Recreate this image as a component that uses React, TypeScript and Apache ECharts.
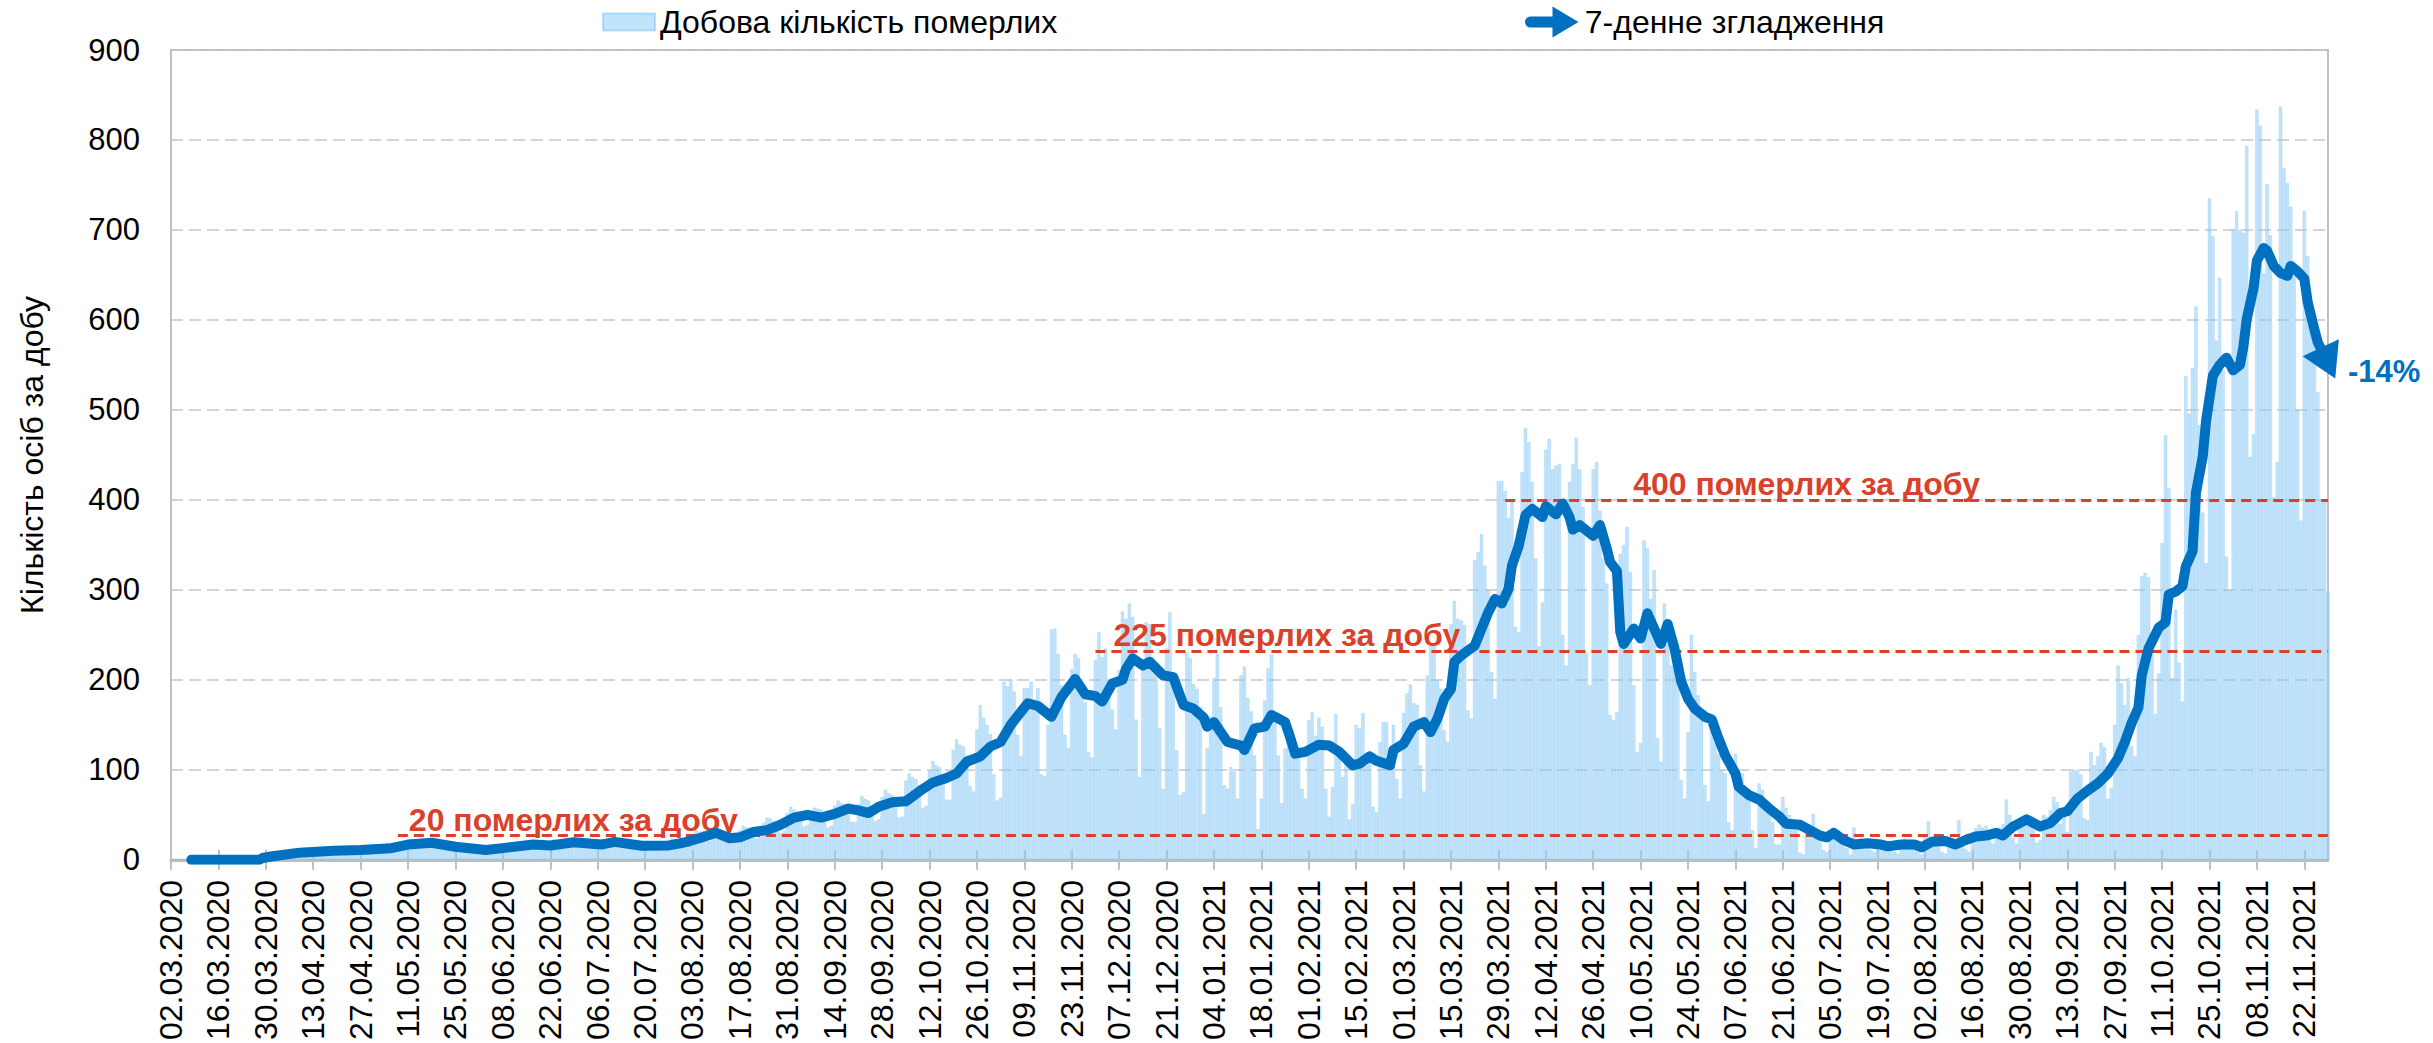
import React, { useEffect, useRef } from 'react';
import * as echarts from 'echarts';

// ---------- DATA ----------
const START_UTC = Date.UTC(2020, 2, 2); // 02.03.2020, first category

// Daily deaths (bars), by calendar month
const MAR20 = [0,0,0,0,0,0,0, 0,0,0,0,1,0,0, 0,0,1,0,1,1,0, 1,2,1,3,2,2,3, 4,5];
const APR20 = [3,6,5,3,4, 7,9,10,8,9,6,7, 10,12,11,9,11,8,9, 12,13,11,13,12,8,9, 13,14,12,15];
const MAY20 = [13,10,10, 15,19,18,17,16,13,14, 20,22,23,19,21,13,15, 16,17,19,16,14,11,12, 12,14,13,14,12,9,10];
const JUN20 = [12,15,14,13,14,9,11, 16,19,18,17,17,12,13, 18,19,17,18,16,13,14, 20,23,21,20,19,15,16, 18,21];
const JUL20 = [19,20,17,14,14, 21,23,22,21,20,15,15, 16,19,17,18,15,11,13, 17,19,18,17,16,12,13, 21,24,23,22,20];
const AUG20 = [14,16, 27,33,31,32,29,21,23, 25,29,28,27,26,19,21, 33,38,36,35,32,24,26, 41,47,46,43,41,30,32, 52];
const SEP20 = [59,56,54,53,37,39, 52,58,57,56,53,36,38, 60,66,63,62,57,42,42, 62,71,68,66,60,43,45, 70,78,74];
const OCT20 = [72,66,47,48, 88,96,92,90,83,58,60, 99,110,105,103,95,67,67, 122,134,128,126,116,82,76, 145,172,158,150,140,95];
const NOV20 = [66, 69,198,193,201,187,139,115, 191,191,198,172,191,95,93, 150,256,257,229,194,139,124, 212,229,224,185,175,120,114, 222];
const DEC20 = [253,225,235,200,167,145, 211,276,268,285,270,156,92, 212,264,262,225,209,146,79, 235,275,200,122,72,75,231, 224,195,190,170];
const JAN21 = [51,124,159, 202,229,170,83,79,103,98, 68,205,215,180,165,116,34, 68,177,213,228,160,116,63, 124,150,116,114,118,79,68];
const FEB21 = [155,164,138,158,148,79,48, 81,162,124,92,110,45,62, 150,146,163,105,120,59,53, 131,153,153,109,150,90,68];
const MAR21 = [163,185,195,174,172,105,76, 205,240,238,200,190,144,131, 262,288,268,266,261,166,157, 333,342,362,327,300,209,179, 421,421,410];
const APR21 = [380,400,259,253, 431,480,464,420,335,237,286, 456,468,434,438,440,250,216, 420,440,469,434,392,230,194, 434,442,388,335,307];
const MAY21 = [161,155, 164,340,350,370,320,194,120, 130,355,346,290,322,135,109, 285,262,216,230,201,89,68, 142,250,209,183,161,83,65, 150];
const JUN21 = [130,118,100,96,42,33, 118,98,96,76,72,33,13, 85,78,63,57,42,17,17, 70,58,50,39,35,8,6, 40,35,51];
const JUL21 = [31,31,11,9, 33,33,24,19,17,13,6, 36,22,24,17,15,11,9, 21,20,17,19,15,9,7, 22,24,19,19,16,9];
const AUG21 = [6, 25,43,24,22,17,9,7, 22,24,20,44,24,12,9, 30,35,39,36,38,25,18, 28,36,40,67,50,25,18, 40,38];
const SEP21 = [42,45,40,19,22, 50,48,55,70,64,40,50, 31,98,100,100,95,46,44, 120,105,115,130,125,68,80, 150,216,196,172];
const OCT21 = [202,126,115, 250,315,319,314,246,162,207, 352,472,413,202,278,219,176, 538,496,547,615,483,386,330, 735,693,577,647,544,337,300];
const NOV21 = [700,721,700,697,793,448,473, 834,816,652,751,694,403,442, 837,769,752,726,654,500,377, 721,671,609,578,520,400,400,298];

const DAILY = [
  ...MAR20, ...APR20, ...MAY20, ...JUN20, ...JUL20, ...AUG20, ...SEP20, ...OCT20, ...NOV20, ...DEC20,
  ...JAN21, ...FEB21, ...MAR21, ...APR21, ...MAY21, ...JUN21, ...JUL21, ...AUG21, ...SEP21, ...OCT21, ...NOV21,
];

// 7-day smoothing: [day index, value]
const SMOOTH: [number, number][] = [
  [6,0],[26,0],[27,2],[30,4],[38,8],[48,10],[56,11],[65,13],[70,17],[77,19],[84,14.5],[93,11],[98,13],
  [107,17],[112,16],[119,19.5],[127,17],[131,20],[139,15.6],[147,16],[150,18],[153,20.6],[156,24],[161,30],
  [165,24],[168,25],[172,31],[176,33],[180,39],[184,47],[188,50],[192,47],[196,51],[200,57],[203,55],[206,52],
  [209,59],[213,64],[217,65],[221,76],[225,86],[229,91],[232,96],[235,109],[239,115],[242,126],[245,131],
  [248,150],[253,174],[256,171],[260,159],[263,181],[267,201],[270,184],[273,182],[275,176],[278,196],
  [281,200],[282,212],[284,224],[287,216],[289,220],[293,205],[296,203],[299,172],[302,168],[305,158],
  [306,148],[308,153],[312,131],[316,127],[317,122],[320,146],[323,148],[325,161],[329,153],[330,142],
  [332,118],[335,120],[339,128],[342,127],[345,120],[349,105],[351,107],[354,115],[356,110],[360,105],
  [361,122],[364,129],[367,148],[370,153],[372,142],[374,157],[376,179],[378,190],[379,220],[381,227],
  [385,238],[389,275],[391,290],[393,285],[395,301],[396,327],[398,349],[400,383],[402,390],[405,381],
  [406,393],[409,384],[411,396],[413,381],[414,367],[416,372],[420,360],[422,372],[424,346],[425,331],
  [427,321],[428,253],[429,240],[432,257],[434,246],[436,274],[438,257],[440,240],[442,262],[444,235],
  [446,198],[448,179],[450,168],[453,159],[455,156],[457,135],[459,116],[462,96],[463,81],[466,72],
  [469,67],[472,57],[475,48],[477,40],[481,39],[484,33],[487,27],[489,25],[491,30],[494,22],[497,17],
  [501,18.5],[505,17],[507,15],[511,17],[515,17],[517,14],[520,20],[524,21],[527,17],[530,22],[533,26],
  [536,27],[539,30],[541,27],[544,37],[548,45],[552,37],[555,41],[558,52],[560,54],[563,68],[566,77],
  [569,85],[572,96],[575,113],[577,131],[579,152],[581,169],[582,205],[584,235],[587,258],[589,264],
  [590,295],[592,298],[594,304],[595,326],[597,343],[598,408],[600,448],[601,488],[603,538],[605,550],
  [607,558],[609,544],[611,550],[612,570],[613,601],[615,635],[616,666],[618,680],[619,677],[621,660],
  [623,652],[625,649],[626,660],[628,654],[630,646],[631,620],[633,589],[634,575],[636,560],[637,552],
];

const CHANGE_LABEL = '-14%';
const THRESHOLD_LEVELS = [27, 232, 400];
const THRESHOLD_START_DAYS = [67, 273, 394];
const THRESHOLD_LABELS = ['20 померлих за добу', '225 померлих за добу', '400 померлих за добу'];

const Y_MIN = 0;
const Y_MAX = 900;
const Y_STEP = 100;
const TICK_EVERY = 14;

const BAR_NAME = 'Добова кількість померлих';
const LINE_NAME = '7-денне згладження';
const Y_NAME = 'Кількість осіб за добу';

// ---------- HELPERS ----------
const pad2 = (n: number) => (n < 10 ? '0' + n : '' + n);
const CATEGORIES = DAILY.map((_, i) => {
  const d = new Date(START_UTC + i * 86400000);
  return pad2(d.getUTCDate()) + '.' + pad2(d.getUTCMonth() + 1) + '.' + d.getUTCFullYear();
});

const FONT = "'Liberation Sans', Arial, Helvetica, sans-serif";
const BLUE = '#0070C0';
const RED = '#D9412B';
const GREY = '#bfbfbf';
const LABEL_PADS = [11, 18, 128];
const ARROW_ICON = 'path://M8,10 L30,10 L30,0 L56,15.5 L30,31 L30,21 L8,21 A5.5,5.5 0 0 1 8,10 Z';

export default function App() {
  const ref = useRef<HTMLDivElement>(null);

  useEffect(() => {
    if (!ref.current) return;
    const chart = echarts.init(ref.current, null, { renderer: 'svg' });
    const last = DAILY.length - 1;
    const legendText = { fontSize: 32, color: '#000', fontFamily: FONT, lineHeight: 36 };

    const option: any = {
      animation: false,
      backgroundColor: '#ffffff',
      textStyle: { fontFamily: FONT },
      grid: {
        left: 171, top: 50, right: 105, bottom: 181,
        show: true, borderColor: GREY, borderWidth: 2, backgroundColor: 'transparent',
      },
      legend: [
        {
          data: [{ name: BAR_NAME, icon: 'rect' }],
          left: 602, top: 4, padding: 0, itemWidth: 52, itemHeight: 17, itemGap: 0,
          textStyle: legendText,
        },
        {
          data: [{ name: LINE_NAME, icon: ARROW_ICON }],
          left: 1525, top: 4, padding: 0, itemWidth: 56, itemHeight: 31, itemGap: 0,
          itemStyle: { borderWidth: 0, color: BLUE },
          textStyle: legendText,
        },
      ],
      xAxis: [
        {
          type: 'category', data: CATEGORIES, boundaryGap: false,
          axisLine: { lineStyle: { color: GREY, width: 3 } },
          axisTick: { interval: TICK_EVERY - 1, length: 10, lineStyle: { color: GREY, width: 2 } },
          axisLabel: {
            interval: TICK_EVERY - 1, rotate: 90, fontSize: 32, color: '#000', margin: 20, fontFamily: FONT,
          },
          splitLine: { show: false },
        },
        {
          type: 'category', data: CATEGORIES, boundaryGap: false, position: 'bottom',
          axisLine: { show: false },
          axisTick: { inside: true, interval: TICK_EVERY - 1, length: 10, lineStyle: { color: GREY, width: 2 } },
          axisLabel: { show: false },
          splitLine: { show: false },
        },
      ],
      yAxis: {
        type: 'value', min: Y_MIN, max: Y_MAX, interval: Y_STEP,
        name: Y_NAME, nameLocation: 'middle', nameGap: 123,
        nameTextStyle: { fontSize: 32, color: '#000', fontFamily: FONT },
        axisLine: { show: false }, axisTick: { show: false },
        axisLabel: { fontSize: 31, color: '#000', margin: 31, fontFamily: FONT },
        splitLine: { lineStyle: { type: [12, 6], color: '#c8c8c8', width: 1.5 } },
      },
      series: [
        {
          type: 'bar', name: BAR_NAME, data: DAILY, barWidth: '100%', z: 2,
          itemStyle: { color: 'rgba(150,208,248,0.58)', borderColor: 'rgba(100,180,240,0.42)', borderWidth: 0.5 },
          markLine: {
            silent: true, symbol: ['none', 'none'], z: 4,
            lineStyle: { color: RED, type: [10, 6], width: 3 },
            label: {
              show: true, position: 'insideStartTop', color: RED, fontWeight: 'bold',
              fontSize: 32, fontFamily: FONT, distance: 0,
            },
            data: THRESHOLD_LEVELS.map((lv, i) => [
              {
                coord: [THRESHOLD_START_DAYS[i], lv],
                label: { formatter: THRESHOLD_LABELS[i], padding: [0, 0, 0, LABEL_PADS[i]] },
              },
              { coord: [last, lv] },
            ]),
          },
        },
        {
          type: 'line', name: LINE_NAME, data: SMOOTH, showSymbol: false, symbol: 'none', z: 10,
          lineStyle: { color: BLUE, width: 10, cap: 'round', join: 'round' },
          itemStyle: { color: BLUE },
          endLabel: {
            show: true, formatter: CHANGE_LABEL, color: BLUE, fontSize: 31, fontWeight: 'bold',
            fontFamily: FONT, distance: 20, offset: [0, 8],
          },
          markLine: {
            silent: true, symbol: ['none', 'triangle'], symbolSize: [40, 34],
            lineStyle: { color: BLUE, width: 10, type: 'solid' },
            itemStyle: { color: BLUE },
            label: { show: false },
            data: [[
              { coord: SMOOTH[SMOOTH.length - 2] },
              { coord: SMOOTH[SMOOTH.length - 1] },
            ]],
          },
        },
      ],
    };

    chart.setOption(option);
    return () => chart.dispose();
  }, []);

  return (
    <div
      ref={ref}
      style={{ position: 'fixed', left: 0, top: 0, width: 2433, height: 1043, background: '#fff' }}
    />
  );
}
